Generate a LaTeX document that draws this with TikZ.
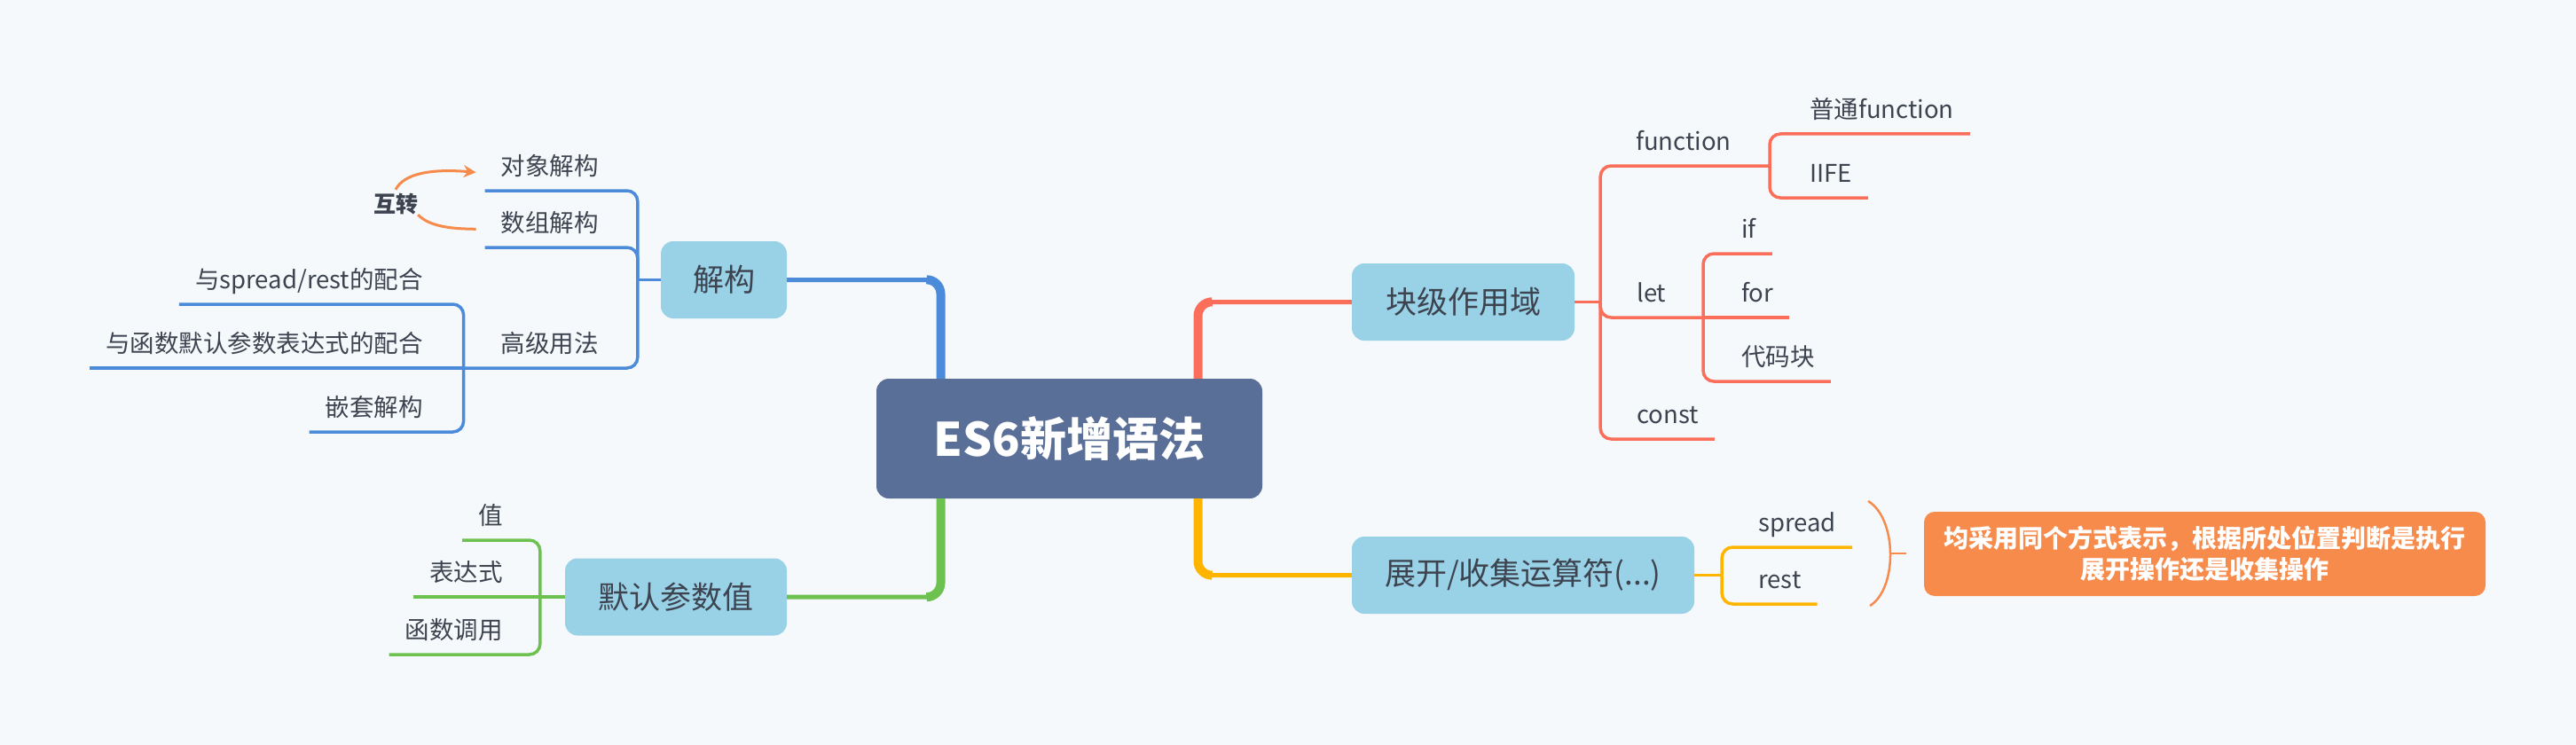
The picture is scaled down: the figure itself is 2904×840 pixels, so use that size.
\documentclass[tikz,border=0pt]{standalone}
\usepackage{fontspec}
\setmainfont{Noto Sans CJK SC}
\usepackage{xcolor}
\usetikzlibrary{arrows.meta}
\definecolor{bgc}{HTML}{F5F9FC}
\definecolor{rootc}{HTML}{5A6F98}
\definecolor{topicc}{HTML}{99D2E7}
\definecolor{txtc}{HTML}{3D4450}
\definecolor{bluec}{HTML}{4C8BDA}
\definecolor{redc}{HTML}{FA6E5A}
\definecolor{greenc}{HTML}{6DC24F}
\definecolor{yellowc}{HTML}{FFB500}
\definecolor{orangec}{HTML}{F68B4C}

\begin{document}
\begin{tikzpicture}[x=1pt,y=-1pt,
    root/.style={fill=rootc,text=white,rounded corners=14pt,minimum width=435pt,minimum height=135pt,inner sep=0pt,font=\fontsize{52}{60}\selectfont\bfseries},
    topic/.style={fill=topicc,text=txtc,rounded corners=14pt,minimum height=87pt,inner sep=0pt,font=\fontsize{35}{40}\selectfont},
    leaf/.style={text=txtc,inner sep=0pt,text height=24pt,text depth=17pt,font=\fontsize{27.5}{32}\selectfont},
    trunk/.style={line width=5pt,rounded corners=16pt},
    root stem/.style={line width=10pt,rounded corners=16pt},
    twig/.style={line width=3.5pt,rounded corners=12pt},
    swap/.style={orangec,line width=3pt}
  ]

      \fill[bgc] (0,0) rectangle (2904,840);
      \useasboundingbox (0,0) rectangle (2904,840);

      % centre and main topics
      \node[root] (es6) at (1205.5,494.5) {ES6新增语法};
      \node[topic,minimum width=142pt] (jg) at (816,315.5) {解构};
      \node[topic,minimum width=250pt] (mr) at (762,673) {默认参数值};
      \node[topic,minimum width=251pt] (kj) at (1649.5,340.5) {块级作用域};
      \node[topic,minimum width=386pt] (zk) at (1717,648.5) {展开/收集运算符(...)};

      \draw[bluec,root stem] ([xshift=-145pt]es6.north) |- ++(-16,-111.5);
      \draw[bluec,trunk] ([xshift=-145pt]es6.north) |- (jg.east);
      \draw[redc,root stem] ([xshift=145pt]es6.north) |- ++(16,-86.5);
      \draw[redc,trunk] ([xshift=145pt]es6.north) |- (kj.west);
      \draw[greenc,root stem] ([xshift=-145pt]es6.south) |- ++(-16,111);
      \draw[greenc,trunk] ([xshift=-145pt]es6.south) |- (mr.east);
      \draw[yellowc,root stem] ([xshift=145pt]es6.south) |- ++(16,86.5);
      \draw[yellowc,trunk] ([xshift=145pt]es6.south) |- (zk.west);

      % 解构
      \coordinate (jgS) at ([xshift=-26pt]jg.west);
      \node[leaf,anchor=south east] (dx) at (675,215) {对象解构};
      \node[leaf,anchor=south east] (sz) at (675,279) {数组解构};
      \node[leaf,anchor=south east] (gj) at (675,415) {高级用法};
      \draw[bluec,twig] (jg.west) -- (jgS);
      \draw[bluec,twig] (jgS) |- ([xshift=-18pt]dx.south west);
      \draw[bluec,twig] (jgS) |- ([xshift=-18pt]sz.south west);
      \coordinate (gjS) at ([xshift=-42pt]gj.south west);
      \draw[bluec,twig] (jgS) |- (gjS);

      \node[leaf,anchor=south east] (ps) at (477,343) {与spread/rest的配合};
      \node[leaf,anchor=south east] (hs) at (477,415) {与函数默认参数表达式的配合};
      \node[leaf,anchor=south east] (qt) at (477,487) {嵌套解构};
      \draw[bluec,twig] (gjS) |- ([xshift=-18pt]ps.south west);
      \draw[bluec,twig] (gjS) -- ([xshift=-18pt]hs.south west);
      \draw[bluec,twig] (gjS) |- ([xshift=-18pt]qt.south west);

      \node[text=txtc,inner sep=0pt,font=\fontsize{25}{30}\selectfont\bfseries] (hz) at (446,230) {互转};
      \draw[swap,-{Stealth[length=14pt,width=14pt]}] ([yshift=4pt]hz.north) .. controls (455,196) and (485,190) .. ([xshift=-28pt]dx.west);
      \draw[swap] (hz.south east) .. controls (485,256) and (510,258) .. ([xshift=-28pt]sz.west);

      % 默认参数值
      \coordinate (mrS) at ([xshift=-28pt]mr.west);
      \node[leaf,anchor=south east] (z) at (567,609) {值};
      \node[leaf,anchor=south east] (bd) at (567,673) {表达式};
      \node[leaf,anchor=south east] (hd) at (567,738) {函数调用};
      \draw[greenc,twig] (mr.west) -- (mrS);
      \draw[greenc,twig] (mrS) |- ([xshift=-18pt]z.south west);
      \draw[greenc,twig] (mrS) -- ([xshift=-18pt]bd.south west);
      \draw[greenc,twig] (mrS) |- ([xshift=-18pt]hd.south west);

      % 块级作用域
      \coordinate (kjS) at ([xshift=29pt]kj.east);
      \draw[redc,twig] (kj.east) -- (kjS);
      \node[leaf,anchor=south west] (fn) at (1844,187) {function};
      \coordinate (fnS) at (1995,187);
      \draw[redc,twig] (kjS) |- (fnS);
      \node[leaf,anchor=south west] (pt) at (2040,151) {普通function};
      \node[leaf,anchor=south west] (ii) at (2040,223) {IIFE};
      \draw[redc,twig] (fnS) |- ([xshift=18pt]pt.south east);
      \draw[redc,twig] (fnS) |- ([xshift=18pt]ii.south east);

      \node[leaf,anchor=south west] (lt) at (1845,358) {let};
      \coordinate (ltS) at (1920,358);
      \draw[redc,twig] (kjS) |- (ltS);
      \node[leaf,anchor=south west] (iff) at (1963,286) {if};
      \node[leaf,anchor=south west] (fo) at (1963,358) {for};
      \node[leaf,anchor=south west] (dm) at (1963,430) {代码块};
      \draw[redc,twig] (ltS) |- ([xshift=18pt]iff.south east);
      \draw[redc,twig] (ltS) -- ([xshift=18pt]fo.south east);
      \draw[redc,twig] (ltS) |- ([xshift=18pt]dm.south east);

      \node[leaf,anchor=south west] (cs) at (1845,495) {const};
      \draw[redc,twig] (kjS) |- ([xshift=18pt]cs.south east);

      % 展开/收集运算符
      \coordinate (zkS) at ([xshift=31pt]zk.east);
      \draw[yellowc,twig] (zk.east) -- (zkS);
      \node[leaf,anchor=south west] (sp) at (1982,617) {spread};
      \node[leaf,anchor=south west] (rs) at (1982,681) {rest};
      \draw[yellowc,twig] (zkS) |- ([xshift=18pt]sp.south east);
      \draw[yellowc,twig] (zkS) |- ([xshift=18pt]rs.south east);

      % summary
      \draw[orangec,line width=2.5pt] (2106,565) .. controls (2139,585) and (2139,664) .. (2108,683);
      \draw[orangec,line width=2.5pt] (2131,624) -- (2149,624);
      \node[fill=orangec,text=white,rounded corners=12pt,minimum width=633pt,minimum height=95pt,inner sep=0pt,align=center,font=\fontsize{28}{35}\selectfont\bfseries] (sm) at (2485.5,624.5) {均采用同个方式表示，根据所处位置判断是执行\\展开操作还是收集操作};

    \end{tikzpicture}
\end{document}
